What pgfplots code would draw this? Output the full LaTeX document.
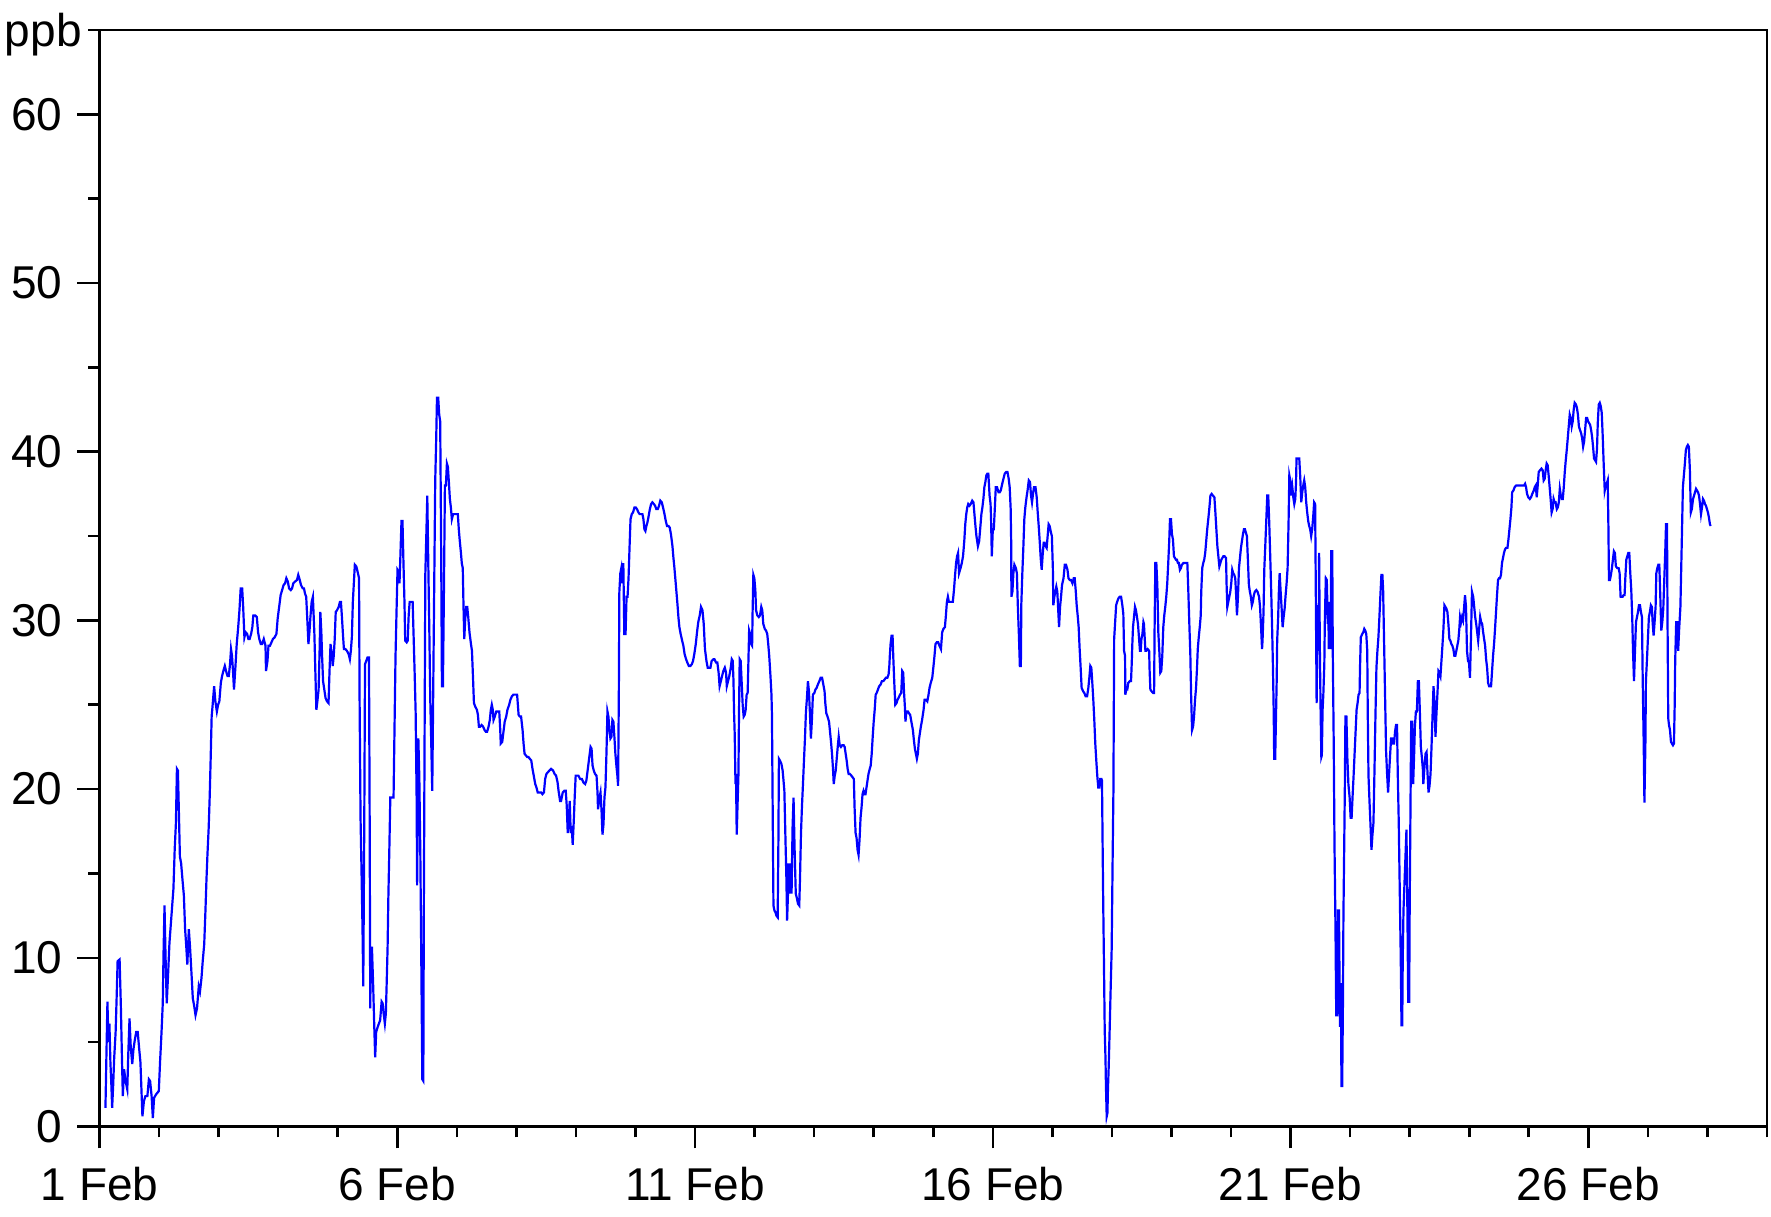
\documentclass[border=0pt]{standalone}
\usepackage{fontspec}
\setmainfont{Liberation Sans}
\usepackage{pgfplots}
\pgfplotsset{compat=1.18}
\begin{document}
\begin{tikzpicture}
\begin{axis}[
  scale only axis, width=833.75pt, height=548.25pt,
  xmin=0, xmax=672, ymin=0, ymax=65,
  axis line style={line width=1.3pt},
  major tick style={black, line width=1.3pt},
  minor tick style={black, line width=1.3pt},
  tick align=outside,
  major tick length=11pt, minor tick length=5.5pt,
  xtick={0,120,240,360,480,600},
  xticklabels={1 Feb,6 Feb,11 Feb,16 Feb,21 Feb,26 Feb},
  minor xtick={0,24,...,672},
  ytick={0,10,...,60}, minor ytick={5,15,...,65},
  xtick pos=bottom, ytick pos=left,
  ticklabel style={font=\fontsize{23}{27}\selectfont},
  xticklabel style={yshift=-6pt},
  yticklabel style={xshift=-4pt},
  /pgf/number format/assume math mode=true,
]
\addplot[blue, line width=1.1pt] coordinates {
(2.4,1.1)(2.8,4.3)(3.2,7.4)(3.6,5.0)(4.0,6.1)(4.4,3.8)(4.8,2.4)(5.1,1.1)(5.5,2.4)(5.9,4.0)(6.5,5.6)(6.9,7.6)(7.3,9.8)(8.1,9.9)(8.6,7.2)(9.0,4.4)(9.4,1.8)(9.9,3.4)(10.5,2.7)(11.2,2.2)(11.6,4.3)(12.1,6.4)(12.6,4.7)(13.2,3.7)(13.7,4.6)(14.2,5.1)(14.8,5.6)(15.4,5.6)(16.0,4.6)(16.5,3.8)(16.9,2.2)(17.3,0.6)(17.9,1.5)(18.5,1.8)(19.3,1.8)(19.9,2.8)(20.4,2.7)(21.0,1.8)(21.5,0.5)(22.0,1.7)(22.8,1.9)(23.9,2.1)(24.4,3.8)(25.0,5.6)(25.5,7.3)(25.8,10.2)(26.2,13.1)(26.6,10.2)(27.1,7.3)(27.7,9.2)(28.2,10.9)(28.7,11.9)(29.3,13.1)(29.8,14.1)(30.3,16.4)(30.8,18.0)(31.2,21.2)(31.6,21.1)(32.0,18.6)(32.4,16.0)(32.9,15.6)(33.4,14.7)(34.0,13.7)(34.5,11.7)(35.0,10.6)(35.4,9.6)(36.0,11.7)(36.5,10.6)(37.1,9.0)(37.6,7.6)(38.1,7.2)(38.7,6.6)(39.3,7.0)(40.0,8.3)(40.5,8.0)(41.1,8.8)(41.6,9.8)(42.2,10.8)(42.7,12.8)(43.1,14.6)(43.5,16.1)(44.0,17.7)(44.4,19.5)(44.8,21.8)(45.2,24.3)(45.6,25.0)(46.2,26.1)(46.7,25.2)(47.3,24.6)(47.8,25.0)(48.3,25.2)(48.9,26.3)(49.4,26.7)(49.9,27.0)(50.5,27.3)(51.0,27.0)(51.6,26.7)(52.1,26.7)(52.6,27.4)(53.0,28.3)(53.4,27.9)(53.8,27.0)(54.2,25.9)(54.8,27.3)(55.3,28.6)(55.9,29.6)(56.4,30.6)(56.9,31.9)(57.5,31.9)(57.9,30.8)(58.4,29.0)(58.9,29.3)(59.5,29.2)(60.0,28.9)(60.5,28.9)(61.1,29.2)(61.6,29.6)(62.0,30.3)(62.7,30.3)(63.4,30.2)(63.9,29.3)(64.4,28.9)(65.0,28.6)(65.5,28.6)(66.2,28.9)(66.9,28.5)(67.1,27.0)(67.7,27.6)(68.1,28.5)(68.7,28.5)(69.3,28.7)(69.9,28.9)(70.6,29.0)(71.3,29.2)(71.8,30.1)(72.4,30.8)(73.0,31.5)(73.6,31.8)(74.2,32.1)(74.8,32.2)(75.3,32.5)(75.9,32.3)(76.4,31.9)(77.1,31.8)(77.6,31.9)(78.1,32.2)(78.8,32.3)(79.6,32.4)(80.1,32.7)(80.7,32.4)(81.2,32.1)(81.9,31.9)(82.4,31.9)
(82.8,31.6)(83.3,31.4)(83.8,29.9)(84.2,28.6)(84.6,29.3)(85.0,30.2)(85.5,31.1)(86.0,31.4)(86.6,29.2)(87.0,26.9)(87.4,24.7)(87.8,25.2)(88.3,25.9)(88.7,28.2)(89.0,30.5)(89.4,29.3)(89.7,27.9)(90.1,26.4)(90.6,25.9)(91.1,25.4)(91.7,25.2)(92.3,25.1)(92.7,27.0)(93.1,28.6)(93.6,28.0)(94.0,27.3)(94.4,27.9)(94.8,28.9)(95.2,30.5)(95.7,30.6)(96.4,30.8)(96.9,31.1)(97.3,31.1)(97.7,30.2)(98.1,29.2)(98.5,28.3)(99.1,28.3)(99.7,28.2)(100.4,28.0)(100.9,27.7)(101.3,28.2)(101.7,29.0)(102.1,31.1)(102.5,32.2)(102.9,33.3)(103.5,33.2)(104.0,32.9)(104.6,32.5)(104.8,25.6)(105.2,18.3)(105.6,15.1)(106.0,11.7)(106.3,8.3)(106.7,17.9)(107.0,27.4)(107.5,27.6)(108.0,27.8)(108.6,27.8)(108.9,17.4)(109.1,7.0)(109.4,10.6)(109.8,10.6)(110.3,8.3)(110.7,6.1)(111.1,4.1)(111.5,5.6)(112.1,5.9)(112.6,6.1)(113.1,6.3)(113.7,7.4)(114.1,7.3)(114.5,6.7)(115.0,6.1)(115.4,6.7)(115.7,8.3)(116.1,10.6)(116.4,13.5)(116.8,16.4)(117.2,19.5)(117.8,19.5)(118.5,19.5)(118.9,23.7)(119.3,27.9)(119.7,30.5)(120.1,33.0)(120.5,32.9)(120.9,32.2)(121.3,34.0)(121.7,35.9)(122.1,35.9)(122.5,33.4)(122.9,31.1)(123.2,28.8)(123.8,28.7)(124.2,28.8)(124.6,30.3)(125.0,31.1)(125.6,31.1)(126.2,31.1)(126.6,29.0)(127.0,26.9)(127.4,24.6)(127.8,19.5)(128.0,14.3)(128.5,23.0)(128.9,20.6)(129.3,16.1)(129.7,9.6)(130.1,2.8)(130.5,2.7)(130.7,12.7)(131.0,22.7)(131.3,32.7)(131.7,35.0)(132.1,37.4)(132.5,33.4)(132.9,29.6)(133.3,25.3)(133.7,22.7)(134.1,19.9)(134.5,26.0)(134.9,32.2)(135.3,38.3)(135.7,40.8)(136.0,43.2)(136.5,43.2)(136.9,42.2)(137.3,41.8)(137.7,34.0)(138.0,26.1)(138.4,26.1)(138.8,31.7)(139.2,38.0)(139.6,38.0)(140.0,39.3)(140.4,39.1)(140.8,38.2)(141.2,37.2)(141.6,36.7)(142.0,36.0)(142.5,36.3)(143.1,36.3)(143.8,36.3)(144.4,36.3)(144.8,35.4)(145.2,34.7)(145.6,34.1)(146.0,33.4)(146.4,33.1)(146.7,30.8)(147.0,28.9)(147.4,30.1)(147.8,30.8)(148.2,30.8)(148.6,30.2)(149.1,29.3)(149.7,28.6)(150.1,28.2)(150.5,26.7)(150.9,25.1)(151.4,24.9)(152.1,24.7)(152.5,24.4)(152.9,23.7)(153.4,23.7)(154.0,23.8)(154.6,23.7)(155.2,23.5)(155.7,23.4)(156.2,23.4)(156.8,23.7)(157.3,24.1)(157.7,24.7)(158.1,25.0)(158.5,24.7)(158.8,24.1)(159.3,24.3)(159.9,24.6)(160.4,24.6)(161.1,24.6)(161.5,23.5)(161.7,22.7)(162.3,22.8)(162.8,23.4)(163.3,24.0)(163.9,24.3)(164.4,24.7)(165.1,25.0)
(165.6,25.3)(166.2,25.5)(166.8,25.6)(167.5,25.6)(168.3,25.6)(168.9,24.4)(169.4,24.3)(169.9,24.3)(170.5,23.5)(170.9,22.7)(171.3,22.1)(171.8,22.0)(172.4,21.9)(172.9,21.9)(173.4,21.8)(174.0,21.7)(174.5,21.2)(175.0,20.8)(175.6,20.3)(176.1,20.1)(176.6,19.8)(177.5,19.8)(178.0,19.8)(178.5,19.7)(179.1,19.8)(179.6,20.6)(180.1,20.9)(180.7,21.0)(181.3,21.1)(182.0,21.2)(182.8,21.1)(183.4,20.9)(184.0,20.8)(184.6,20.4)(185.0,19.9)(185.6,19.3)(186.0,19.3)(186.7,19.8)(187.3,19.9)(187.9,19.9)(188.3,19.0)(188.7,17.4)(189.1,18.0)(189.5,19.3)(189.9,17.4)(190.3,17.8)(190.7,16.7)(191.1,18.0)(191.5,19.5)(191.9,20.8)(192.5,20.8)(193.0,20.8)(193.7,20.6)(194.4,20.6)(195.0,20.4)(195.7,20.3)(196.2,20.5)(196.8,21.2)(197.3,21.8)(197.9,22.5)(198.3,22.4)(198.7,21.4)(199.2,21.1)(199.7,20.9)(200.3,20.8)(200.7,19.8)(200.9,18.8)(201.5,19.5)(201.9,19.8)(202.3,18.8)(202.7,17.3)(203.1,17.9)(203.5,19.5)(203.9,20.1)(204.3,22.1)(204.7,24.6)(205.1,24.3)(205.5,23.5)(205.9,23.0)(206.3,23.1)(206.7,24.1)(207.1,24.0)(207.5,23.1)(207.9,22.1)(208.3,21.4)(208.7,20.8)(209.0,20.2)(209.3,25.9)(209.5,31.7)(209.9,32.8)(210.3,33.1)(210.7,32.2)(211.1,33.4)(211.5,29.2)(212.0,29.2)(212.4,31.4)(212.8,31.4)(213.2,32.5)(213.6,34.3)(214.0,36.0)(214.5,36.3)(215.0,36.4)(215.6,36.7)(216.1,36.7)(216.6,36.6)(217.2,36.4)(217.7,36.3)(218.3,36.3)(218.8,36.3)(219.2,36.0)(219.6,35.4)(220.0,35.3)(220.4,35.6)(220.8,35.8)(221.2,36.1)(221.8,36.6)(222.3,36.9)(222.8,37.0)(223.4,36.9)(223.9,36.8)(224.4,36.6)(225.0,36.6)(225.5,36.8)(226.0,37.1)(226.6,37.0)(227.1,36.7)(227.7,36.3)(228.2,35.9)(228.7,35.6)(229.3,35.6)(229.8,35.5)(230.3,35.1)(230.9,34.4)(231.3,33.7)(231.7,33.1)(232.1,32.4)(232.5,31.7)(232.9,31.0)(233.3,30.2)(233.7,29.6)(234.2,29.2)(234.8,28.8)(235.3,28.5)(235.8,28.0)(236.4,27.7)(236.9,27.5)(237.5,27.3)(238.1,27.3)(238.7,27.4)(239.2,27.6)(239.7,28.0)(240.3,28.6)(240.8,29.3)(241.3,29.9)(241.9,30.3)(242.4,30.8)(243.0,30.6)(243.5,29.8)(244.0,28.3)(244.6,27.6)(245.1,27.2)(245.6,27.2)(246.2,27.2)(246.7,27.6)(247.4,27.7)
(247.8,27.7)(248.5,27.5)(249.0,27.5)(249.5,26.9)(249.9,26.1)(250.4,26.4)(250.9,26.7)(251.4,27.0)(252.0,27.2)(252.5,26.9)(252.8,26.1)(253.3,26.4)(253.8,26.7)(254.4,27.2)(254.8,27.7)(255.2,27.6)(255.5,26.4)(255.7,24.7)(256.0,23.2)(256.3,20.3)(256.5,20.9)(256.8,17.3)(257.1,18.9)(257.5,20.9)(257.7,24.3)(258.0,27.7)(258.4,27.6)(258.8,26.3)(259.2,25.0)(259.6,24.3)(260.0,24.4)(260.4,24.7)(260.8,25.6)(261.2,25.7)(261.5,27.5)(261.8,29.4)(262.2,29.2)(262.6,28.6)(263.0,28.5)(263.2,30.5)(263.5,32.7)(263.9,32.5)(264.3,31.8)(264.6,30.6)(265.1,30.3)(265.7,30.2)(266.2,30.3)(266.7,30.8)(267.1,30.6)(267.5,29.8)(268.1,29.5)(268.6,29.4)(269.1,29.2)(269.5,28.6)(269.9,27.9)(270.4,26.7)(270.8,25.6)(271.0,24.4)(271.3,18.6)(271.6,13.1)(272.0,12.8)(272.4,12.7)(272.8,12.5)(273.3,12.4)(273.6,17.0)(273.8,21.8)(274.2,21.7)(274.8,21.5)(275.3,21.1)(275.6,20.6)(276.0,19.9)(276.4,17.3)(276.8,14.8)(277.1,12.2)(277.5,14.0)(277.7,15.6)(278.1,13.8)(278.5,15.6)(278.9,13.8)(279.3,17.7)(279.7,19.5)(280.1,16.6)(280.6,13.8)(281.1,13.5)(281.5,13.2)(282.0,13.1)(282.3,14.7)(282.7,17.4)(283.1,19.0)(283.5,20.3)(283.9,21.7)(284.3,23.0)(284.7,24.6)(285.1,25.4)(285.5,26.4)(285.9,25.8)(286.3,24.5)(286.7,23.0)(287.1,24.1)(287.5,25.6)(288.1,25.7)(288.5,25.9)(289.0,26.0)(289.5,26.2)(290.1,26.4)(290.6,26.6)(291.2,26.6)(291.7,26.2)(292.2,25.8)(292.5,25.1)(292.9,24.5)(293.4,24.3)(294.0,24.0)(294.4,23.4)(294.8,22.8)(295.2,22.1)(295.6,21.2)(295.9,20.3)(296.3,20.8)(296.7,21.1)(297.1,21.8)(297.5,22.5)(297.9,23.1)(298.3,22.6)(298.8,22.5)(299.3,22.6)(299.9,22.6)(300.3,22.5)(300.7,22.1)(301.1,21.7)(301.5,21.2)(301.9,20.9)(302.4,20.9)(303.0,20.8)(303.5,20.7)(304.0,20.6)(304.3,18.9)(304.7,17.4)(305.1,17.1)(305.5,16.4)(305.9,16.1)(306.3,17.0)(306.7,18.3)(307.1,18.9)(307.5,19.7)(307.9,19.9)(308.3,19.7)(308.7,19.7)(309.1,20.1)(309.5,20.5)(309.9,20.9)(310.4,21.2)(310.8,21.4)(311.2,22.1)(311.6,23.1)(312.0,24.0)(312.4,24.7)(312.8,25.6)(313.2,25.7)(313.7,25.9)(314.2,26.1)(314.8,26.2)(315.3,26.4)(315.9,26.4)(316.4,26.5)(316.9,26.6)(317.5,26.6)(318.0,26.8)(318.3,27.3)(318.5,27.9)(318.8,28.6)(319.2,29.1)(319.6,29.1)(319.9,27.8)(320.3,26.3)(320.7,25.0)(321.2,25.1)(321.6,25.3)(322.0,25.4)(322.6,25.6)(323.1,25.7)(323.5,27.0)(323.9,26.9)(324.2,25.8)(324.6,24.8)(324.8,24.0)(325.2,24.6)(325.8,24.6)(326.2,24.5)(326.7,24.4)(327.3,23.9)(327.8,23.5)(328.2,22.9)(328.6,22.4)(329.0,22.1)(329.4,21.8)(329.8,22.1)(330.2,22.9)
(330.5,23.2)(331.0,23.7)(331.5,24.1)(332.1,24.7)(332.5,25.3)(333.0,25.3)(333.6,25.2)(334.1,25.6)(334.5,26.0)(335.0,26.3)(335.6,26.6)(336.1,27.3)(336.5,27.9)(336.9,28.6)(337.4,28.7)(338.0,28.7)(338.5,28.5)(339.1,28.3)(339.6,29.3)(340.1,29.5)(340.7,29.6)(341.1,30.3)(341.5,31.1)(341.9,31.4)(342.3,31.1)(342.8,31.1)(343.4,31.1)(343.9,31.1)(344.4,31.9)(344.8,32.7)(345.2,33.4)(345.6,33.8)(346.0,34.0)(346.4,32.8)(347.0,33.1)(347.5,33.4)(348.0,33.8)(348.5,34.7)(348.9,35.7)(349.3,36.3)(349.7,36.7)(350.1,36.9)(350.6,36.8)(351.1,36.9)(351.7,37.1)(352.2,37.0)(352.6,36.3)(353.0,35.6)(353.4,35.0)(354.0,34.4)(354.5,34.7)(354.9,35.4)(355.4,36.3)(355.8,36.7)(356.2,37.2)(356.6,37.9)(357.0,38.2)(357.4,38.6)(357.8,38.7)(358.2,38.7)(358.7,37.4)(359.1,36.9)(359.3,36.0)(359.6,33.8)(360.0,35.4)(360.4,35.4)(360.8,36.6)(361.2,37.9)(361.7,37.9)(362.3,37.6)(362.8,37.6)(363.2,37.7)(363.8,38.1)(364.3,38.4)(364.8,38.7)(365.4,38.8)(365.9,38.8)(366.4,38.4)(366.8,37.9)(367.2,36.6)(367.4,34.7)(367.5,31.4)(367.9,31.7)(368.3,32.8)(368.7,33.3)(369.3,33.1)(369.7,32.8)(370.1,30.8)(370.5,29.2)(370.9,27.3)(371.3,27.3)(371.5,31.0)(371.9,32.8)(372.3,34.3)(372.7,36.0)(373.1,36.7)(373.6,37.3)(374.0,37.7)(374.5,38.3)(375.0,38.2)(375.4,37.4)(375.8,37.0)(376.2,37.5)(376.6,37.9)(377.2,37.9)(377.7,37.3)(378.1,36.4)(378.5,35.6)(378.9,34.7)(379.3,33.7)(379.7,33.0)(380.1,33.9)(380.5,34.6)(380.9,34.6)(381.3,34.4)(381.7,34.3)(382.1,35.0)(382.5,35.7)(382.9,35.6)(383.3,35.3)(383.8,35.0)(384.2,33.1)(384.4,30.9)(384.8,31.4)(385.2,31.7)(385.6,32.0)(386.0,31.7)(386.3,30.8)(386.7,29.6)(387.1,30.8)(387.5,31.4)(387.9,32.1)(388.5,32.5)(389.0,33.3)(389.5,33.3)(390.1,33.0)(390.5,32.5)(391.0,32.4)(391.5,32.4)(392.1,32.2)(392.6,32.5)(393.0,32.5)(393.4,31.8)(393.8,30.9)(394.2,30.3)(394.6,29.6)(395.0,28.3)(395.4,27.2)(395.8,26.0)(396.4,25.8)(396.9,25.7)(397.4,25.5)(398.0,25.5)(398.5,26.0)(398.9,26.6)(399.3,27.3)(399.7,27.2)(400.1,26.3)(400.5,25.3)(400.9,24.1)(401.3,22.7)(401.7,21.7)(402.1,20.8)(402.5,20.1)(402.9,20.1)(403.3,20.6)(403.8,20.6)(404.0,20.5)(404.3,16.0)(404.5,13.2)(404.8,9.6)(405.1,5.7)(405.4,4.1)(405.6,2.4)(405.9,0.6)(406.2,0.8)(406.4,2.2)(406.7,3.5)(407.1,5.8)(407.5,8.2)(407.9,10.5)(408.3,16.0)(408.6,19.8)(408.9,28.9)(409.3,29.9)(409.7,30.9)(410.1,31.1)(410.6,31.3)(411.1,31.4)(411.7,31.4)(412.2,30.9)(412.6,30.4)(412.9,28.2)
(413.3,27.9)(413.4,25.6)(413.8,25.9)(414.2,25.9)(414.6,26.3)(415.2,26.4)(415.7,26.4)(416.0,27.5)(416.2,28.5)(416.5,29.6)(416.9,30.2)(417.3,30.8)(417.7,30.6)(418.1,30.2)(418.5,29.8)(418.9,29.0)(419.3,28.2)(419.6,28.2)(419.9,28.9)(420.3,29.2)(420.7,29.9)(420.9,29.8)(421.2,29.0)(421.5,28.2)(421.9,28.2)(422.4,28.3)(423.0,28.2)(423.2,27.0)(423.5,25.9)(424.0,25.8)(424.6,25.7)(425.0,25.7)(425.2,29.5)(425.5,33.4)(425.9,33.4)(426.3,32.1)(426.7,29.3)(427.1,28.2)(427.5,26.9)(427.9,27.0)(428.3,27.9)(428.7,29.6)(429.1,30.3)(429.5,30.8)(429.9,31.4)(430.3,32.2)(430.7,33.4)(431.1,34.7)(431.4,36.0)(431.8,36.0)(432.2,35.1)(432.6,34.8)(433.0,33.8)(433.4,33.7)(433.8,33.6)(434.2,33.6)(434.6,33.4)(435.0,33.4)(435.4,33.0)(435.8,33.1)(436.2,33.3)(436.8,33.4)(437.3,33.4)(437.9,33.4)(438.4,33.4)(438.8,31.7)(439.2,29.8)(439.6,28.0)(439.9,25.7)(440.3,23.5)(440.7,23.7)(441.1,24.3)(441.5,25.3)(441.9,26.0)(442.3,27.2)(442.6,28.3)(443.0,29.0)(443.4,29.6)(443.8,30.3)(444.0,31.7)(444.4,33.1)(444.8,33.4)(445.2,33.6)(445.6,34.0)(446.0,34.7)(446.4,35.4)(446.9,36.1)(447.3,36.7)(447.7,37.4)(448.2,37.5)(448.7,37.4)(449.3,37.3)(449.7,36.4)(450.1,35.4)(450.5,34.4)(450.9,33.8)(451.3,33.2)(451.7,33.4)(452.1,33.6)(452.5,33.7)(452.9,33.8)(453.4,33.8)(454.0,33.7)(454.2,32.2)(454.5,30.8)(454.9,31.1)(455.3,31.4)(455.7,31.7)(456.1,32.2)(456.5,33.0)(456.9,32.8)(457.3,32.7)(457.7,32.5)(458.1,31.4)(458.4,30.3)(458.8,31.4)(459.2,33.1)(459.6,33.7)(460.0,34.3)(460.4,34.7)(460.8,35.1)(461.2,35.4)(461.6,35.4)(462.0,35.2)(462.4,35.0)(462.8,33.6)(463.2,32.1)(463.6,31.7)(464.0,31.4)(464.4,30.9)(464.8,31.1)(465.2,31.5)(465.6,31.7)(466.2,31.8)(466.7,31.7)(467.3,31.4)(467.7,30.8)(467.9,30.2)(468.2,29.3)(468.5,28.3)(468.7,28.8)(469.1,30.5)(469.4,33.0)(469.8,34.4)(470.2,35.9)(470.6,37.4)(471.0,37.4)(471.4,35.8)(471.8,33.8)(472.2,31.7)(472.6,29.3)(472.9,27.2)(473.2,24.6)(473.4,21.8)(473.8,21.8)(474.1,24.1)(474.4,26.4)(474.6,28.8)(475.0,30.2)(475.3,31.8)(475.6,32.8)(476.0,31.7)(476.4,30.7)(476.8,29.6)(477.2,30.2)(477.6,30.7)(478.0,31.5)(478.4,32.2)(478.8,33.1)(479.2,35.9)(479.5,38.6)(479.9,38.3)(480.3,37.4)(480.7,37.9)(481.1,37.3)(481.5,36.9)(481.9,37.2)(482.2,38.2)(482.4,39.6)(483.0,39.6)(483.5,39.6)(483.9,38.5)(484.3,37.0)(484.7,37.6)(485.1,38.0)(485.5,38.3)(485.9,37.9)(486.3,37.0)(486.7,36.4)(487.1,35.9)(487.5,35.6)(487.9,35.4)(488.3,35.0)(488.7,35.4)(489.1,36.1)(489.5,37.0)(489.9,36.9)(490.2,31.1)(490.5,25.1)(490.7,27.9)(491.0,30.9)(491.3,28.2)(491.5,34.0)(491.8,28.3)(492.1,24.7)(492.4,21.9)(492.6,22.0)(492.9,24.7)(493.2,25.6)(493.6,27.4)(493.8,29.9)(494.2,32.5)(494.6,32.4)(495.0,29.8)
(495.2,31.1)(495.4,28.3)(495.7,31.1)(496.1,28.3)(496.4,34.1)(496.8,34.1)(497.0,28.3)(497.4,22.5)(497.7,16.7)(498.1,11.7)(498.4,6.6)(498.8,6.6)(499.1,12.8)(499.5,12.8)(499.9,5.9)(500.3,8.5)(500.5,2.4)(500.8,2.4)(501.1,7.3)(501.3,12.5)(501.6,16.4)(501.9,20.5)(502.1,24.3)(502.5,24.3)(502.9,21.8)(503.3,20.3)(503.8,19.5)(504.2,18.3)(504.6,18.3)(505.0,19.6)(505.4,20.8)(505.8,22.1)(506.2,23.4)(506.6,24.7)(507.0,25.1)(507.4,25.6)(507.8,25.7)(508.0,27.3)(508.3,29.0)(508.9,29.2)(509.3,29.3)(509.7,29.5)(510.1,29.4)(510.5,29.2)(510.9,28.2)(511.1,24.6)(511.4,20.8)(511.8,19.3)(512.2,17.9)(512.6,16.4)(513.0,17.3)(513.4,18.0)(513.8,21.0)(514.2,24.3)(514.6,27.2)(515.0,28.2)(515.4,29.0)(515.8,30.2)(516.2,31.5)(516.6,32.7)(517.0,32.7)(517.3,31.8)(517.7,28.6)(518.1,25.4)(518.5,22.2)(518.9,20.9)(519.3,19.8)(519.7,20.9)(520.1,22.0)(520.5,23.0)(520.9,23.0)(521.3,22.7)(521.7,22.7)(522.1,23.4)(522.5,23.8)(522.9,23.8)(523.2,20.9)(523.6,18.0)(524.0,14.0)(524.4,10.0)(524.7,6.0)(525.0,6.0)(525.2,9.9)(525.5,12.8)(525.9,14.4)(526.3,16.0)(526.7,17.6)(527.1,12.5)(527.4,7.4)(527.8,7.4)(528.0,13.0)(528.3,18.5)(528.6,24.0)(529.0,24.0)(529.4,20.3)(529.8,22.1)(530.1,23.7)(530.5,24.6)(530.9,24.6)(531.3,26.4)(531.7,26.4)(532.1,24.6)(532.5,22.5)(532.9,21.9)(533.3,21.2)(533.5,20.3)(533.9,21.2)(534.4,22.1)(534.8,22.2)(535.2,20.9)(535.6,19.8)(536.0,20.2)(536.4,20.9)(536.8,22.5)(537.2,24.3)(537.6,26.1)(538.0,25.2)(538.4,23.1)(538.8,24.5)(539.2,25.7)(539.6,27.0)(540.0,26.9)(540.4,26.7)(540.8,27.6)(541.2,28.5)(541.6,29.5)(542.0,30.9)(542.4,30.8)(542.8,30.7)(543.2,30.5)(543.6,29.8)(544.0,28.9)(544.4,28.8)(544.8,28.6)(545.2,28.5)(545.6,28.3)(546.0,27.9)(546.4,27.9)(546.8,28.2)(547.2,28.5)(547.6,28.8)(548.0,29.5)(548.3,30.2)(548.7,29.9)(549.1,30.2)(549.5,30.0)(549.9,30.7)(550.3,31.5)(550.7,30.8)(551.1,28.2)(551.5,27.6)(551.9,27.5)(552.3,26.6)(552.7,29.0)(553.1,31.7)(553.6,31.4)(554.0,30.8)(554.4,30.2)(554.8,29.8)(555.2,29.3)(555.6,28.8)(556.0,29.5)(556.4,30.2)(556.8,29.9)(557.2,29.8)(557.6,29.3)(558.0,28.9)(558.4,28.5)(558.8,27.7)(559.2,27.2)(559.6,26.3)(560.0,26.1)(560.4,26.1)(560.8,26.1)(561.2,27.0)(561.6,27.9)(562.0,28.6)(562.4,29.5)(562.8,30.5)(563.2,31.5)(563.6,32.4)(564.0,32.5)(564.4,32.5)(564.8,32.7)(565.2,33.4)(565.6,33.7)(566.0,34.0)(566.4,34.2)(566.8,34.3)(567.4,34.3)(567.8,34.8)(568.2,35.4)(568.6,36.0)(569.0,36.7)(569.3,37.6)(569.8,37.7)(570.3,37.9)(570.9,38.0)(571.4,38.0)(571.9,38.0)(572.5,38.0)(573.0,38.0)(573.6,38.0)(574.1,38.0)(574.5,38.1)(574.9,37.9)(575.3,37.5)(575.8,37.3)(576.4,37.2)(576.9,37.3)(577.4,37.5)(578.0,37.7)
(578.4,37.9)(578.8,38.0)(579.2,37.3)(579.6,38.0)(580.0,38.8)(580.5,38.9)(581.1,39.0)(581.6,38.9)(582.0,38.3)(582.4,38.4)(582.8,38.9)(583.2,39.3)(583.6,39.2)(584.0,38.6)(584.4,37.9)(584.8,37.2)(585.2,36.4)(585.6,36.6)(586.0,37.2)(586.4,37.0)(586.8,37.0)(587.3,36.6)(587.7,36.7)(588.1,37.0)(588.5,37.8)(588.9,37.4)(589.3,37.2)(589.7,37.2)(590.1,37.9)(590.5,38.8)(590.9,39.5)(591.3,40.1)(591.7,40.8)(592.1,41.5)(592.5,42.2)(592.9,42.0)(593.3,41.5)(593.7,41.8)(594.1,42.5)(594.5,42.9)(595.0,42.8)(595.4,42.6)(595.8,42.2)(596.2,41.5)(596.6,41.3)(597.1,41.1)(597.5,40.8)(597.9,40.3)(598.3,40.6)(598.7,41.3)(599.1,42.0)(599.5,42.0)(599.9,41.8)(600.3,41.7)(600.7,41.6)(601.1,41.3)(601.5,40.9)(601.9,40.3)(602.3,39.6)(602.7,39.5)(603.1,39.4)(603.5,40.2)(603.8,41.7)(604.2,42.8)(604.6,42.9)(605.0,42.7)(605.4,42.3)(605.8,40.9)(606.2,39.2)(606.6,37.7)(607.0,38.0)(607.4,38.1)(607.8,38.3)(608.1,35.4)(608.3,32.4)(608.7,32.4)(609.1,32.7)(609.5,33.1)(609.9,33.6)(610.3,34.1)(610.7,34.0)(611.1,33.2)(611.7,33.1)(612.2,33.1)(612.6,32.8)(613.0,31.4)(613.4,31.4)(613.8,31.4)(614.2,31.5)(614.6,31.5)(614.9,32.5)(615.3,33.6)(615.7,33.8)(616.1,34.0)(616.5,34.0)(616.9,32.8)(617.3,31.8)(617.7,30.1)(618.0,28.2)(618.4,26.4)(618.8,28.2)(619.2,29.9)(619.6,30.2)(620.0,30.5)(620.4,30.9)(620.8,30.9)(621.2,30.5)(621.6,30.2)(621.9,26.6)(622.3,22.8)(622.6,19.2)(623.0,22.8)(623.2,26.4)(623.6,27.6)(624.0,28.9)(624.4,30.2)(624.8,30.5)(625.2,30.9)(625.6,30.8)(625.9,29.9)(626.3,29.1)(626.7,29.9)(627.1,30.8)(627.4,32.8)(627.8,33.1)(628.2,33.3)(628.6,33.3)(629.0,31.4)(629.4,29.4)(629.8,29.9)(630.2,30.7)(630.6,32.4)(631.0,34.1)(631.3,35.7)(631.7,35.7)(631.9,30.2)(632.2,24.2)(632.5,23.8)(632.9,23.5)(633.3,22.8)(633.7,22.7)(634.1,22.6)(634.5,22.7)(634.8,25.0)(635.0,27.6)(635.4,29.9)(635.8,29.9)(636.2,28.2)(636.6,29.5)(637.1,30.8)(637.3,32.2)(637.7,35.0)(638.1,37.9)(638.5,38.6)(638.9,39.3)(639.3,40.1)(639.7,40.3)(640.1,40.4)(640.5,40.3)(640.9,39.0)(641.3,36.4)(641.7,36.6)(642.2,37.2)(642.6,37.4)(643.0,37.6)(643.4,37.8)(643.8,37.7)(644.2,37.6)(644.6,37.4)(645.0,36.9)(645.4,36.3)(645.8,36.7)(646.2,37.2)(646.6,37.1)(647.0,36.9)(647.4,36.8)(647.8,36.6)(648.2,36.4)(648.6,36.1)(649.0,35.7)(649.3,35.6)
};
\coordinate (SW) at (rel axis cs:0,0);
\coordinate (NE) at (rel axis cs:1,1);
\coordinate (NW) at (rel axis cs:0,1);
\end{axis}
\node[anchor=base east, inner sep=0pt, font=\fontsize{23}{27}\selectfont] at ([xshift=-8.75pt,yshift=-8.35pt]NW) {ppb};
\pgfresetboundingbox
\path ([xshift=-49.75pt,yshift=-45.25pt]SW) rectangle ([xshift=2pt,yshift=15pt]NE);
\end{tikzpicture}
\end{document}
